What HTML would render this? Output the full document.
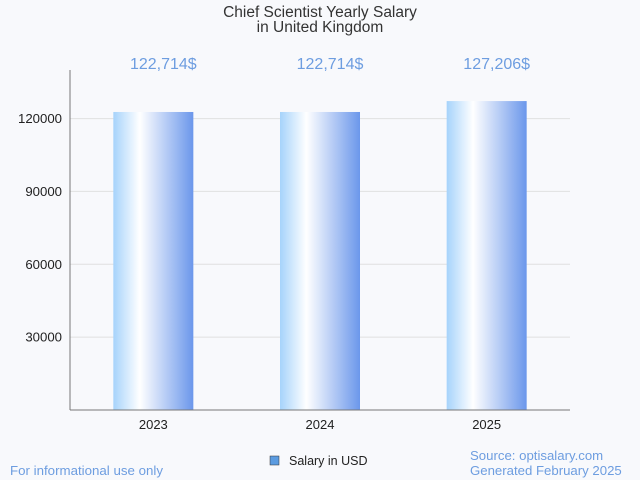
<!DOCTYPE html>
<html><head><meta charset="utf-8"><style>
body{margin:0;background:#f8f9fc;}
svg{display:block;font-family:"Liberation Sans",sans-serif;}
</style></head><body>
<svg width="640" height="480">
<defs><linearGradient id="g" x1="0" x2="1" y1="0" y2="0">
<stop offset="0" stop-color="#a6d3fb"/><stop offset="0.33" stop-color="#ffffff"/><stop offset="1" stop-color="#6b97eb"/>
</linearGradient></defs>
<rect width="640" height="480" fill="#f8f9fc"/>
<text x="320" y="17" text-anchor="middle" font-size="15.5" fill="#333">Chief Scientist Yearly Salary</text>
<text x="320" y="32" text-anchor="middle" font-size="15.5" fill="#333">in United Kingdom</text>
<g id="grid"></g><g id="bars"></g>
<line x1="70" y1="70" x2="70" y2="410" stroke="#777"/>
<line x1="70" y1="410" x2="570" y2="410" stroke="#777"/>
<rect x="270" y="456" width="9" height="9" fill="#5b9be0" stroke="#333" stroke-width="0.5"/>
<text x="289" y="465" font-size="12.5" fill="#222">Salary in USD</text>
<text x="10" y="475" font-size="13.3" fill="#6d9de0">For informational use only</text>
<text x="470" y="460" font-size="13.2" fill="#6d9de0">Source: optisalary.com</text>
<text x="470" y="475" font-size="13.2" fill="#6d9de0">Generated February 2025</text>
</svg>
<script>
const categories=["2023","2024","2025"];
const values=[122714,122714,127206];
const labels=["122,714$","122,714$","127,206$"];
const ticks=[30000,60000,90000,120000];
const ns="http://www.w3.org/2000/svg";
const y=v=>410-v*340/140000;
const bw=500/categories.length;
const xc=i=>70+bw*(i+0.5);
const grid=document.getElementById('grid'),bars=document.getElementById('bars');
function mk(t,a,p){const e=document.createElementNS(ns,t);for(const k in a)e.setAttribute(k,a[k]);p.appendChild(e);return e;}
ticks.forEach(t=>{
 const l=mk('line',{x1:70,x2:570,y1:y(t),y2:y(t),stroke:'#e0e0e0'},grid);
 
 
 const tx=mk('text',{x:62,y:y(t)+4.5,'text-anchor':'end','font-size':13.2,fill:'#222'},grid);
 tx.textContent=t;
 
 
});
categories.forEach((c,i)=>{
 const r=mk('rect',{x:xc(i)-40,y:y(values[i]),width:80,height:410-y(values[i]),fill:'url(#g)'},bars);
 
 
 const v=mk('text',{x:xc(i)+10,y:69,'text-anchor':'middle','font-size':16,fill:'#6d9de0'},bars);
 v.textContent=labels[i];
 
 
 const xl=mk('text',{x:xc(i),y:429,'text-anchor':'middle','font-size':13,fill:'#222'},bars);
 xl.textContent=c;
 
 
});
</script>
</body></html>
